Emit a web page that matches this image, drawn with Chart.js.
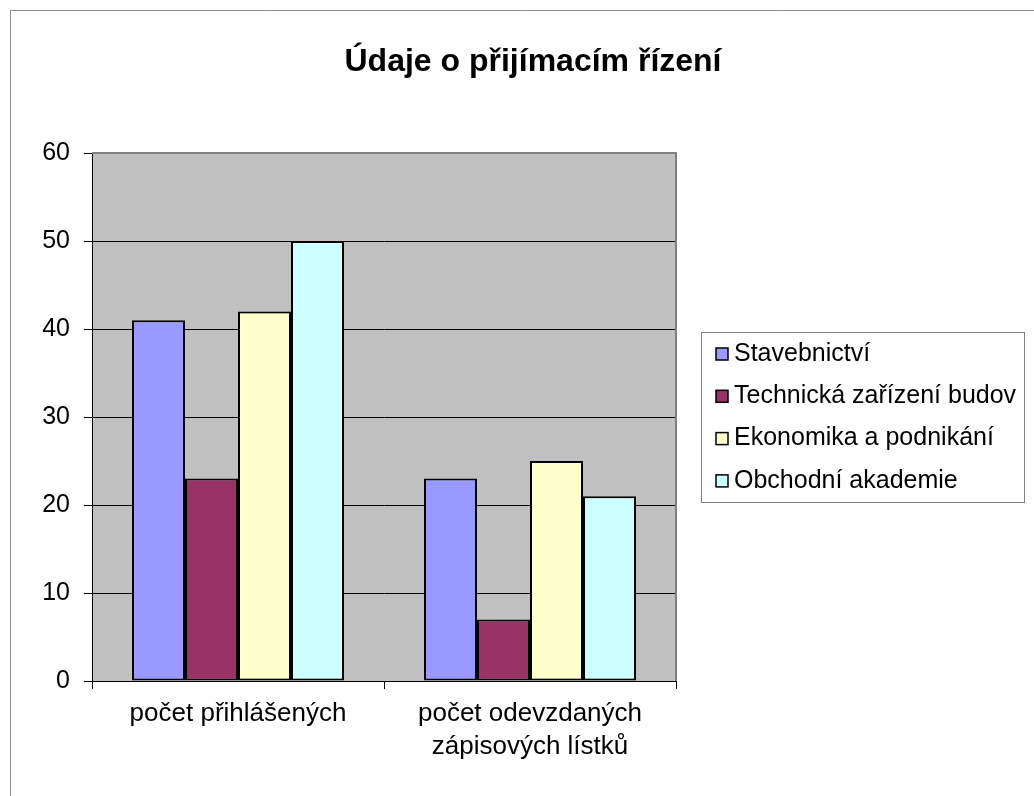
<!DOCTYPE html>
<html>
<head>
<meta charset="utf-8">
<script src="https://cdn.jsdelivr.net/npm/chart.js@4"></script>
<style>
  html, body { margin: 0; padding: 0; background: #fff; }
  #wrap { width: 1034px; height: 796px; }
</style>
</head>
<body>
<div id="wrap"><canvas id="chart" width="1034" height="796"></canvas></div>
<script>
const categories = ['počet přihlášených', ['počet odevzdaných', 'zápisových lístků']];
const seriesNames = ['Stavebnictví', 'Technická zařízení budov', 'Ekonomika a podnikání', 'Obchodní akademie'];
const seriesColors = ['#9999FF', '#993366', '#FFFFCC', '#CCFFFF'];
const stavebnictvi = [41, 23];
const technicka = [23, 7];
const ekonomika = [42, 25];
const obchodni = [50, 21];
const yTicks = [0, 10, 20, 30, 40, 50, 60];

const FONT = 'Arial, "Liberation Sans", sans-serif';

// gray plot area, frame, title and legend drawn around the chart
const excelLook = {
  id: 'excelLook',
  beforeDraw(chart) {
    const { ctx, chartArea: a } = chart;
    ctx.save();
    ctx.fillStyle = '#C0C0C0';
    ctx.fillRect(a.left, a.top, a.right - a.left, a.bottom - a.top);
    ctx.strokeStyle = '#8c8c8c';
    ctx.lineWidth = 1;
    ctx.beginPath();
    ctx.moveTo(10.5, chart.height);
    ctx.lineTo(10.5, 10.5);
    ctx.lineTo(chart.width, 10.5);
    ctx.stroke();
    ctx.restore();
  },
  afterDraw(chart) {
    const { ctx, chartArea: a } = chart;
    ctx.save();
    // plot area border top/right
    ctx.strokeStyle = '#808080';
    ctx.lineWidth = 2;
    ctx.beginPath();
    ctx.moveTo(a.left, a.top);
    ctx.lineTo(a.right, a.top);
    ctx.lineTo(a.right, a.bottom);
    ctx.stroke();

    // title
    ctx.fillStyle = '#000';
    ctx.font = 'bold 32px ' + FONT;
    ctx.textAlign = 'center';
    ctx.textBaseline = 'middle';
    ctx.fillText('Údaje o přijímacím řízení', 533, 62);

    // legend
    ctx.strokeStyle = '#808080';
    ctx.lineWidth = 1;
    ctx.strokeRect(701.5, 332.5, 323, 170);
    ctx.font = '25px ' + FONT;
    ctx.textAlign = 'left';
    chart.data.datasets.forEach((ds, i) => {
      const y = 354 + i * 42.3;
      ctx.fillStyle = ds.backgroundColor;
      ctx.fillRect(716, y - 6, 12, 12);
      ctx.strokeStyle = '#000';
      ctx.lineWidth = 1.5;
      ctx.strokeRect(716, y - 6, 12, 12);
      ctx.fillStyle = '#000';
      ctx.fillText(ds.label, 734, y);
    });
    ctx.restore();
  }
};

const seriesData = [stavebnictvi, technicka, ekonomika, obchodni];

new Chart(document.getElementById('chart'), {
  type: 'bar',
  data: {
    labels: categories,
    datasets: seriesNames.map((name, i) => ({
      label: name,
      data: seriesData[i],
      backgroundColor: seriesColors[i],
      borderColor: '#000',
      borderWidth: 2,
      borderSkipped: false,
      barPercentage: 1,
      categoryPercentage: 0.726
    }))
  },
  options: {
    responsive: false,
    animation: false,
    events: [],
    layout: { padding: { left: 0, top: 153, right: 358, bottom: 0 } },
    plugins: {
      legend: { display: false },
      title: { display: false },
      tooltip: { enabled: false }
    },
    scales: {
      y: {
        min: 0,
        max: 60,
        afterFit: (s) => { s.width = 92; },
        afterBuildTicks: (s) => { s.ticks = yTicks.map(v => ({ value: v })); },
        ticks: {
          color: '#000',
          font: { family: FONT, size: 25 },
          padding: 14
        },
        grid: { color: '#000', lineWidth: 1, tickLength: 8 },
        border: { color: '#000', width: 1 }
      },
      x: {
        afterFit: (s) => { s.height = 115; },
        ticks: {
          color: '#000',
          font: { family: FONT, size: 26, lineHeight: 1.27 },
          padding: 8,
          maxRotation: 0
        },
        grid: { drawOnChartArea: false, drawTicks: true, tickLength: 8, color: '#000' },
        border: { color: '#000', width: 1 }
      }
    }
  },
  plugins: [excelLook]
});
</script>
</body>
</html>
